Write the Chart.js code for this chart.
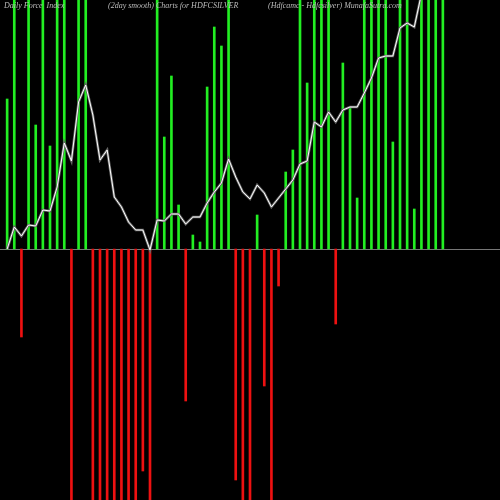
<!DOCTYPE html>
<html>
<head>
<script src="https://cdn.jsdelivr.net/npm/chart.js@4"></script>
<style>
	html, body { margin: 0; padding: 0; background: #000; }
	#wrap { width: 500px; height: 500px; }
</style>
</head>
<body>
<div id="wrap"><canvas id="myChart"></canvas></div>
<script>
// force index bars (positive = green, negative = red), clipped at chart edge
var force = [150, 300, -88, 300, 124, 300, 103, 300, 300, -300,
	300, 300, -300, -300, -300, -300, -300, -300, -300, -222,
	-300, 300, 112, 173, 44, -152, 14, 7, 162, 222,
	203, 300, -231, -300, -300, 34, -137, -300, -37, 77,
	99, 300, 166, 300, 300, 300, -75, 186, 141, 51,
	300, 300, 300, 300, 107, 300, 300, 40, 300, 300,
	300, 300];

// 2 day smoothed line
var smooth = [0, 22, 13, 24, 23, 39, 38, 62, 106, 88,
	147, 164, 134, 89, 99, 52, 42, 27, 19, 19,
	-1, 29, 28, 35, 35, 25, 32, 32, 46, 57,
	66, 90, 72, 57, 50, 64, 56, 42, 51, 60,
	69, 85, 88, 127, 122, 137, 127, 139, 142, 142,
	156, 171, 191, 193, 193, 221, 226, 222, 255, 280,
	300, 320];

var titles = ['Daily Force  Index', '(2day smooth) Charts for HDFCSILVER', '(Hdfcamc - Hdfcsilver) MunafaSutra.com'];

var barPts  = force.map((v, i) => ({ x: i, y: v }));
var linePts = smooth.map((v, i) => ({ x: i, y: v }));

var deco = {
	id : 'deco',
	beforeDatasetsDraw(chart) {
		var c = chart.ctx, y0 = chart.scales.y.getPixelForValue(0);
		c.save();
		c.strokeStyle = '#777';
		c.lineWidth = 1;
		c.beginPath();
		c.moveTo(0, y0 + 0.5);
		c.lineTo(500, y0 + 0.5);
		c.stroke();
		c.restore();
	},
	afterDraw(chart) {
		var c = chart.ctx;
		c.save();
		c.fillStyle = '#bbb';
		c.font = 'italic 8px "Liberation Serif", serif';
		c.textBaseline = 'middle';
		c.fillText(titles[0], 4, 6);
		c.fillText(titles[1], 108, 6);
		c.fillText(titles[2], 268, 6);
		c.restore();
	}
};

new Chart(document.getElementById('myChart'), {
	type : 'bar',
	data : {
		datasets : [{
			type        : 'line',
			data        : linePts,
			borderColor : '#fff',
			borderWidth : 1,
			pointRadius : 0,
			tension     : 0
		},{
			type        : 'line',
			data        : linePts,
			borderColor : '#666',
			borderWidth : 2.5,
			pointRadius : 0,
			tension     : 0
		},{
			data            : barPts,
			backgroundColor : force.map(v => v >= 0 ? '#22ee22' : '#ee1111'),
			barThickness    : 2
		}]
	},
	options : {
		responsive          : true,
		maintainAspectRatio : false,
		animation           : false,
		layout  : { padding : 0 },
		plugins : { legend : { display : false }, tooltip : { enabled : false } },
		scales  : {
			x : { type : 'linear', min : -1, max : 69, offset : false, bounds : 'ticks', display : false },
			y : { min : -251, max : 249, display : false }
		}
	},
	plugins : [deco]
});
</script>
</body>
</html>
